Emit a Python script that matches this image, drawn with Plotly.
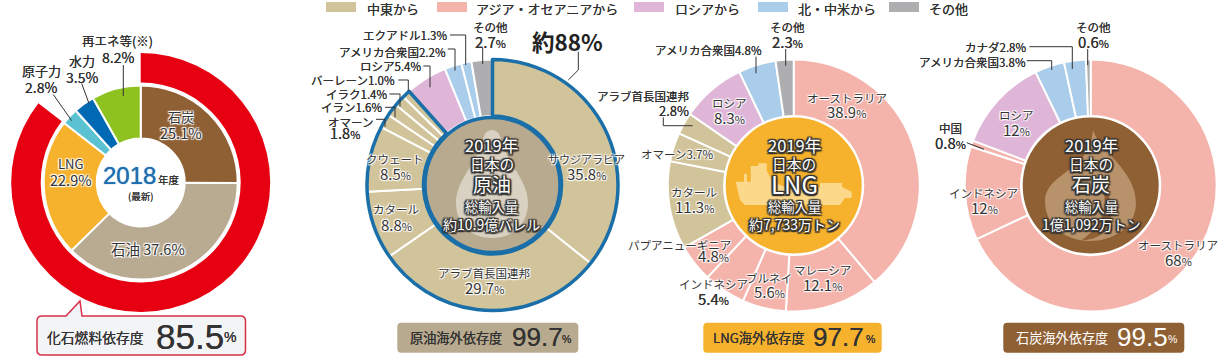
import plotly.graph_objects as go

W, H = 1219, 359
FONT = "Noto Sans CJK JP"
NUM = "Liberation Sans"

legend_labels = ["中東から", "アジア・オセアニアから", "ロシアから", "北・中米から", "その他"]
legend_colors = ["#d2c49a", "#f4b3ab", "#dfb6d8", "#aacdec", "#aeadb0"]
ME, AS, RU, NA, OT = legend_colors

mix_labels = ["石炭", "石油", "LNG", "原子力", "水力", "再エネ等(※)"]
mix_values = [25.1, 37.6, 22.9, 2.8, 3.5, 8.2]
mix_colors = ["#8f6034", "#b9aa92", "#f6b22c", "#5bc2d2", "#0069b4", "#8dc21f"]
fossil_share = 85.5

oil_labels = ["サウジアラビア", "アラブ首長国連邦", "カタール", "クウェート", "オマーン", "イラン", "イラク",
              "バーレーン", "ロシア", "アメリカ合衆国", "エクアドル", "その他"]
oil_values = [35.8, 29.7, 8.8, 8.5, 1.8, 1.6, 1.4, 1.0, 5.4, 2.2, 1.3, 2.7]
oil_colors = [ME] * 8 + [RU, NA, NA, OT]
oil_middle_east = 8

lng_labels = ["オーストラリア", "マレーシア", "ブルネイ", "インドネシア", "パプアニューギニア", "カタール",
              "オマーン", "アラブ首長国連邦", "ロシア", "アメリカ合衆国", "その他"]
lng_values = [38.9, 12.1, 5.6, 5.4, 4.8, 11.3, 3.7, 2.8, 8.3, 4.8, 2.3]
lng_colors = [AS] * 5 + [ME] * 3 + [RU, NA, OT]

coal_labels = ["オーストラリア", "インドネシア", "中国", "ロシア", "アメリカ合衆国", "カナダ", "その他"]
coal_values = [68, 12, 0.8, 12, 3.8, 2.8, 0.6]
coal_colors = [AS, AS, AS, RU, NA, NA, OT]

badge_titles = ["化石燃料依存度", "原油海外依存度", "LNG海外依存度", "石炭海外依存度"]
badge_values = [85.5, 99.7, 97.7, 99.5]

TXT = "#333333"
HALO = "-1px -1px 1px #fff,1px -1px 1px #fff,-1px 1px 1px #fff,1px 1px 1px #fff,0 0 2px #fff"
DARK = ("-1.5px -1.5px 1px #333,1.5px -1.5px 1px #333,-1.5px 1.5px 1px #333,1.5px 1.5px 1px #333,"
        "0 -1.5px 1px #333,0 1.5px 1px #333,-1.5px 0 1px #333,1.5px 0 1px #333")
THICK = "0 0 0.6px #333"

fig = go.Figure()
shapes, anns = [], []


def donut(values, colors, cx, cy, r, hole, line_color="#fff", line_width=2):
    fig.add_trace(go.Pie(
        values=values, sort=False, direction="clockwise", rotation=0, hole=hole,
        marker=dict(colors=colors, line=dict(color=line_color, width=line_width)),
        domain=dict(x=[(cx - r) / W, (cx + r) / W], y=[1 - (cy + r) / H, 1 - (cy - r) / H]),
        textinfo="none", hoverinfo="skip", showlegend=False))


def text(x, y, s, size=12.5, color=TXT, halo=False, anchor="center", family=FONT, weight=None, shadow=None):
    font = dict(family=family, size=size, color=color)
    if halo:
        font["shadow"] = HALO
    elif shadow:
        font["shadow"] = shadow
    elif color == TXT:
        font["shadow"] = THICK
    if weight:
        font["weight"] = weight
    anns.append(dict(x=x / W, y=1 - y / H, xref="paper", yref="paper", text=s, showarrow=False,
                     xanchor=anchor, yanchor="middle", font=font, borderpad=0, borderwidth=0))


def pct(v, small=11):
    return f'{v}<span style="font-size:{small}px">%</span>'


def px_path(cmds):
    out = []
    for c in cmds:
        if isinstance(c, str):
            out.append(c)
        else:
            out.append(f"{c[0] / W:.5f},{1 - c[1] / H:.5f}")
    return " ".join(out)


def path(cmds, fill=None, color=None, width=0):
    shapes.append(dict(type="path", xref="paper", yref="paper", path=px_path(cmds),
                       fillcolor=fill or "rgba(0,0,0,0)",
                       line=dict(color=color or "rgba(0,0,0,0)", width=width)))


def leader(*pts):
    cmds = ["M", pts[0]]
    for p in pts[1:]:
        cmds += ["L", p]
    path(cmds, color="#333333", width=1)


def circle(cx, cy, r, fill, color, width):
    shapes.append(dict(type="circle", xref="paper", yref="paper", x0=(cx - r) / W, x1=(cx + r) / W,
                       y0=1 - (cy + r) / H, y1=1 - (cy - r) / H, fillcolor=fill,
                       line=dict(color=color, width=width)))


def rrect(x0, y0, x1, y1, r, fill, color=None, width=0):
    path(["M", (x0 + r, y0), "L", (x1 - r, y0), "Q", (x1, y0), (x1, y0 + r), "L", (x1, y1 - r),
          "Q", (x1, y1), (x1 - r, y1), "L", (x0 + r, y1), "Q", (x0, y1), (x0, y1 - r), "L", (x0, y0 + r),
          "Q", (x0, y0), (x0 + r, y0), "Z"], fill, color, width)


def center_text(cx, lines, main_size=19):
    ys = [145, 163, 183.5, 206.5, 224]
    sizes = [16.5, 14.7, main_size, 13.3, 14]
    for y, s, size in zip(ys, lines, sizes):
        text(cx, y, s, size=size, color="#fff", shadow=DARK)


# ---------- legend
sw_x = [326, 437, 634, 758, 889]
tx_x = [366.5, 475.5, 675, 798, 929]
for x, tx, c, lab in zip(sw_x, tx_x, legend_colors, legend_labels):
    shapes.append(dict(type="rect", xref="paper", yref="paper", x0=x / W, x1=(x + 30) / W,
                       y0=1 - 12 / H, y1=1 - 2 / H, fillcolor=c, line=dict(width=0)))
    text(tx, 8.5, lab, size=13, anchor="left")

# ---------- chart 1: energy mix
cx, cy = 140.7, 182.5
donut([fossil_share, 100 - fossil_share], ["#e60012", "rgba(0,0,0,0)"], cx, cy, 129.5, 100 / 129.5, line_width=0)
donut(mix_values, mix_colors, cx, cy, 97, 44 / 97)
text(181, 116.5, mix_labels[0], 13, halo=True)
text(181, 132.5, f"{mix_values[0]}%", 14.5, halo=True)
text(148, 248.5, f"{mix_labels[1]} {mix_values[1]}%", 14.5, halo=True)
text(70.7, 163.5, mix_labels[2], 13, halo=True)
text(70.7, 179, f"{mix_values[2]}%", 14.5, halo=True)
text(41, 70.5, mix_labels[3], 13)
text(41, 86.5, f"{mix_values[3]}%", 14)
text(81.7, 61, mix_labels[4], 13)
text(81.7, 76.5, f"{mix_values[4]}%", 14)
text(117.5, 40.5, mix_labels[5], 12.5)
text(117.5, 56.5, f"{mix_values[5]}%", 14)
leader((123.3, 65), (123.3, 96))
leader((81.7, 83.5), (89, 103.5))
leader((53.3, 94.5), (71.7, 120.7))
text(129.5, 175.5, "2018", 24, color="#1f6fb0", family=NUM, shadow="0 0 1px #1f6fb0")
text(168.5, 179, "年度", 10.5)
text(140.7, 195.5, "(最新)", 9.5)

# ---------- chart 2: crude oil
cx, cy = 492.5, 185
donut(oil_values, oil_colors, cx, cy, 125.5, 69 / 125.5)
me_total = sum(oil_values[:oil_middle_east])
donut([me_total, sum(oil_values) - me_total], ["rgba(0,0,0,0)", "rgba(0,0,0,0)"], cx, cy, 125.5, 69 / 125.5,
      line_color=["#1a6fa8", "rgba(0,0,0,0)"], line_width=[3.5, 0])
circle(cx, cy, 67.5, "#b8aa8e", "#1a6fa8", 3.5)
path(["M", (492, 130), "C", (498, 130), (500, 135), (502, 142), "C", (508, 165), (528, 180), (528, 203),
      "C", (528, 225), (512, 238), (492, 238), "C", (472, 238), (456, 225), (456, 203),
      "C", (456, 180), (476, 165), (482, 142), "C", (484, 135), (486, 130), (492, 130), "Z"], "#d9d1c2")
center_text(491.5, ["2019年", "日本の", "原油", "総輸入量", "約10.9億バレル"])
text(586.7, 159.5, oil_labels[0], 11, halo=True)
text(586.7, 173.5, pct(oil_values[0]), 15, halo=True)
text(484, 272.5, oil_labels[1], 11.5, halo=True)
text(484, 287.5, pct(oil_values[1]), 15, halo=True)
text(396, 209, oil_labels[2], 11.5, halo=True)
text(396, 224, pct(oil_values[2]), 15, halo=True)
text(395, 159.5, oil_labels[3], 11.5, halo=True)
text(395, 173, pct(oil_values[3]), 15, halo=True)
text(372.7, 121.5, oil_labels[4], 11.5, anchor="right")
text(345, 133, pct(oil_values[4]), 14.5)
for i, x, y in [(5, 381.7, 107.5), (6, 387.3, 93.5), (7, 395, 80), (8, 420.7, 66.5), (9, 446, 51.5), (10, 446.7, 35)]:
    text(x, y, f"{oil_labels[i]}{oil_values[i]}%", 11.5, anchor="right")
text(490, 27, oil_labels[11], 11.5)
text(490, 41, pct(oil_values[11]), 15)
leader((482.7, 48), (482.7, 64))
leader((450, 35), (465.7, 35), (465.7, 65))
leader((447.7, 49), (455, 49), (455, 70.7))
leader((423.3, 66), (430, 66), (430, 87.3))
leader((398.3, 80), (408.3, 80), (408.3, 91))
leader((389.3, 94), (400, 94), (400, 106.7))
leader((385, 107.3), (395, 107.3), (395, 117.3))
leader((376, 119.3), (385, 119.3), (385, 126.7))
text(567, 41, "約88%", 22.5, weight=700, color="#222222")
leader((578.3, 51.7), (578.3, 70), (568.3, 80))

# ---------- chart 3: LNG
cx, cy = 793.7, 185.5
donut(lng_values, lng_colors, cx, cy, 126, 69.5 / 126)
circle(cx, cy, 69, "#f6b22c", "#ffffff", 2)
path(["M", (735.7, 181.7), "L", (744, 181.7), "L", (744, 174), "L", (747, 174), "L", (747, 181.7), "L", (750.7, 181.7),
      "L", (750.7, 166), "L", (758.3, 166), "L", (758.3, 163.3), "L", (766.7, 163.3), "L", (766.7, 170.7), "L", (770.7, 178.3),
      "L", (780, 185), "L", (795, 191), "L", (820, 187), "L", (820, 183), "L", (842, 183), "L", (842, 187),
      "L", (851.7, 191.7), "L", (851.7, 198), "L", (845, 198), "L", (840, 205), "L", (745, 205), "L", (740, 200), "Z"], "#fcd88a")
center_text(794, ["2019年", "日本の", "LNG", "総輸入量", "約7,733万トン"], main_size=24)
text(846.7, 97.5, lng_labels[0], 11.5, halo=True)
text(846.7, 111.5, pct(lng_values[0]), 15, halo=True)
text(822.7, 269.5, lng_labels[1], 11.5, halo=True)
text(822.7, 284, pct(lng_values[1]), 15, halo=True)
text(769.3, 277.5, lng_labels[2], 11.5, halo=True)
text(769.3, 291, pct(lng_values[2]), 15, halo=True)
text(713.3, 284, lng_labels[3], 11.5, halo=True)
text(713.3, 298.5, pct(lng_values[3]), 15)
text(679.3, 244.5, lng_labels[4], 11.5, halo=True)
text(713, 255, pct(lng_values[4]), 15, halo=True)
text(694, 191.5, lng_labels[5], 11.5, halo=True)
text(694, 206.5, pct(lng_values[5]), 15, halo=True)
text(676.7, 154.5, f"{lng_labels[6]}{lng_values[6]}%", 11.5, halo=True)
text(688.5, 95.5, lng_labels[7], 11.5, anchor="right")
text(688.5, 110, f"{lng_values[7]}%", 13, anchor="right")
leader((663.3, 117.3), (663.3, 125.7), (692.7, 125.7))
text(729, 103.5, lng_labels[8], 11.5, halo=True)
text(729, 117.5, pct(lng_values[8]), 15, halo=True)
text(708.3, 50, f"{lng_labels[9]}{lng_values[9]}%", 11.5)
leader((756, 56.7), (756, 73.3))
text(787.7, 27, lng_labels[10], 11.5)
text(787.7, 41, pct(lng_values[10]), 15)
leader((785.7, 49), (785.7, 65.7))

# ---------- chart 4: coal
cx, cy = 1090.7, 185.5
donut(coal_values, coal_colors, cx, cy, 126, 69.5 / 126)
circle(cx, cy, 69, "#8f6034", "#ffffff", 2)
path(["M", (1093, 130), "C", (1098, 150), (1136, 170), (1136, 203), "C", (1136, 228), (1112, 241), (1090, 241),
      "C", (1066, 241), (1045, 226), (1045, 201), "C", (1045, 180), (1072, 172), (1082, 158),
      "C", (1090, 148), (1092, 140), (1093, 130), "Z"], "#b8926a")
path(["M", (1096, 172), "C", (1110, 195), (1108, 222), (1082, 240), "C", (1112, 240), (1124, 210), (1096, 172), "Z"], "#8f6034")
center_text(1091, ["2019年", "日本の", "石炭", "総輸入量", "1億1,092万トン"])
text(1178.3, 244.5, coal_labels[0], 11.5, halo=True)
text(1178.3, 259, pct(coal_values[0]), 15, halo=True)
text(983.3, 192.5, coal_labels[1], 11.5, halo=True)
text(984, 207.5, pct(coal_values[1]), 15, halo=True)
text(950.7, 128.5, coal_labels[2], 11.5)
text(950, 142.5, pct(coal_values[2]), 15)
leader((966.7, 142.7), (984, 149.3))
text(1016, 114.5, coal_labels[3], 11.5, halo=True)
text(1016.7, 129, pct(coal_values[3]), 15, halo=True)
text(1026, 62, f"{coal_labels[4]}{coal_values[4]}%", 11.5, anchor="right")
leader((1026.7, 60.7), (1051.7, 60.7), (1051.7, 70))
text(1026, 46.5, f"{coal_labels[5]}{coal_values[5]}%", 11.5, anchor="right")
leader((1029.3, 46.7), (1072.3, 46.7), (1072.3, 69))
text(1093.3, 27, coal_labels[6], 11.5)
text(1093.3, 41, pct(coal_values[6]), 15)
leader((1087.7, 49), (1087.7, 65))

# ---------- badges
x0, y0, x1, y1, r = 37, 316, 245.5, 355, 5
path(["M", (x0 + r, y0), "L", (66, y0), "L", (80, 301), "L", (82, y0), "L", (x1 - r, y0), "Q", (x1, y0), (x1, y0 + r),
      "L", (x1, y1 - r), "Q", (x1, y1), (x1 - r, y1), "L", (x0 + r, y1), "Q", (x0, y1), (x0, y1 - r), "L", (x0, y0 + r),
      "Q", (x0, y0), (x0 + r, y0), "Z"], "#f3f4f6", "#d9304a", 1.5)
rrect(397.3, 322.7, 578.3, 352.7, 4, "#b8aa8e")
rrect(703.3, 322.7, 881.7, 352.7, 4, "#f6b22c")
rrect(1003.3, 322.7, 1184.3, 352.7, 4, "#8f6034")

text(46.5, 337, badge_titles[0], 13.8, anchor="left")
text(156, 336, str(badge_values[0]), 35, family=NUM, anchor="left")
text(224, 337, "%", 14, family=NUM, anchor="left")
for i, (tx, nx, px, col) in enumerate([(410, 511.5, 561.5, TXT), (713.3, 813, 865.5, TXT), (1016, 1117, 1168, "#fff")], start=1):
    text(tx, 337.5, badge_titles[i], 13.2, anchor="left", color=col)
    text(nx, 337, str(badge_values[i]), 26, family=NUM, anchor="left", color=col)
    text(px, 339, "%", 10.5, family=NUM, anchor="left", color=col)

fig.update_layout(width=W, height=H, autosize=False, margin=dict(l=0, r=0, t=0, b=0, pad=0),
                  paper_bgcolor="#ffffff", plot_bgcolor="#ffffff", showlegend=False,
                  shapes=shapes, annotations=anns, font=dict(family=FONT))

fig.write_html("out.html", config={"displayModeBar": False},
               post_script="document.body.style.margin='0';document.body.style.overflow='hidden';")
